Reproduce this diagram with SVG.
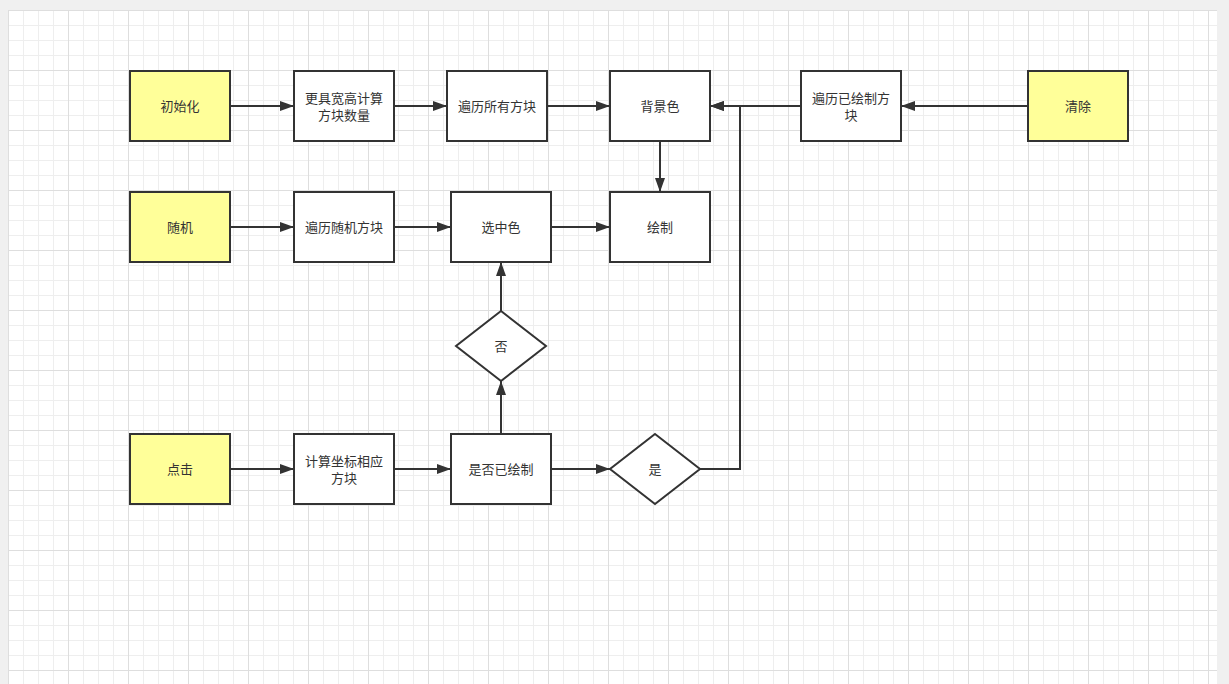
<svg xmlns="http://www.w3.org/2000/svg" width="1229" height="684" viewBox="0 0 1229 684">
<style>
.box{fill:#ffffff;stroke:#333333;stroke-width:2}
.start{fill:#ffff99;stroke:#333333;stroke-width:2}
.lbl{font-family:"Liberation Sans","Noto Sans CJK SC",sans-serif;font-size:13px;fill:#333333;text-anchor:middle}
.edge{fill:none;stroke:#333333;stroke-width:2}
</style>
<defs>
<pattern id="grid" patternUnits="userSpaceOnUse" x="8" y="10" width="60" height="60">
<path d="M15.5 0V60M30.5 0V60M45.5 0V60M0 15.5H60M0 30.5H60M0 45.5H60" stroke="#eeeeee" stroke-width="1" fill="none"/>
<path d="M0.5 0V60M0 0.5H60" stroke="#dedede" stroke-width="1" fill="none"/>
</pattern>
<marker id="arr" viewBox="0 0 14 10" refX="14" refY="5" markerWidth="14" markerHeight="10" markerUnits="userSpaceOnUse" orient="auto">
<path d="M0 0L14 5L0 10z" fill="#333333"/>
</marker>
</defs>
<rect x="0" y="0" width="1229" height="684" fill="#f0f0f0"/>
<rect x="8" y="10" width="1209" height="674" fill="#ffffff"/>
<rect x="8" y="10" width="1209" height="674" fill="url(#grid)"/>

<g id="connectors">
<path class="edge" d="M230 106H294" marker-end="url(#arr)"/>
<path class="edge" d="M394 106H447" marker-end="url(#arr)"/>
<path class="edge" d="M547 106H610" marker-end="url(#arr)"/>
<path class="edge" d="M1028 106H901" marker-end="url(#arr)"/>
<path class="edge" d="M801 106H710" marker-end="url(#arr)"/>
<path class="edge" d="M660 141V192" marker-end="url(#arr)"/>
<path class="edge" d="M230 227H294" marker-end="url(#arr)"/>
<path class="edge" d="M394 227H451" marker-end="url(#arr)"/>
<path class="edge" d="M551 227H610" marker-end="url(#arr)"/>
<path class="edge" d="M501 311V262" marker-end="url(#arr)"/>
<path class="edge" d="M501 434V381" marker-end="url(#arr)"/>
<path class="edge" d="M230 469H294" marker-end="url(#arr)"/>
<path class="edge" d="M394 469H451" marker-end="url(#arr)"/>
<path class="edge" d="M551 469H610" marker-end="url(#arr)"/>
<path class="edge" d="M700 469H740V106H710" marker-end="url(#arr)"/>
</g>

<g id="init"><rect class="start" x="130" y="71" width="100" height="70"/><text class="lbl" x="180" y="111">初始化</text></g>
<g id="calc"><rect class="box" x="294" y="71" width="100" height="70"/><text class="lbl" x="344" y="103">更具宽高计算</text><text class="lbl" x="344" y="120">方块数量</text></g>
<g id="iterall"><rect class="box" x="447" y="71" width="100" height="70"/><text class="lbl" x="497" y="111">遍历所有方块</text></g>
<g id="bgcolor"><rect class="box" x="610" y="71" width="100" height="70"/><text class="lbl" x="660" y="111">背景色</text></g>
<g id="iterdrawn"><rect class="box" x="801" y="71" width="100" height="70"/><text class="lbl" x="851" y="103">遍历已绘制方</text><text class="lbl" x="851" y="120">块</text></g>
<g id="clear"><rect class="start" x="1028" y="71" width="100" height="70"/><text class="lbl" x="1078" y="111">清除</text></g>

<g id="random"><rect class="start" x="130" y="192" width="100" height="70"/><text class="lbl" x="180" y="232">随机</text></g>
<g id="iterrandom"><rect class="box" x="294" y="192" width="100" height="70"/><text class="lbl" x="344" y="232">遍历随机方块</text></g>
<g id="selcolor"><rect class="box" x="451" y="192" width="100" height="70"/><text class="lbl" x="501" y="232">选中色</text></g>
<g id="draw"><rect class="box" x="610" y="192" width="100" height="70"/><text class="lbl" x="660" y="232">绘制</text></g>

<g id="no"><path class="box" d="M501 311L546 346L501 381L456 346Z"/><text class="lbl" x="501" y="351">否</text></g>

<g id="click"><rect class="start" x="130" y="434" width="100" height="70"/><text class="lbl" x="180" y="474">点击</text></g>
<g id="coord"><rect class="box" x="294" y="434" width="100" height="70"/><text class="lbl" x="344" y="466">计算坐标相应</text><text class="lbl" x="344" y="483">方块</text></g>
<g id="isdrawn"><rect class="box" x="451" y="434" width="100" height="70"/><text class="lbl" x="501" y="474">是否已绘制</text></g>
<g id="yes"><path class="box" d="M655 434L700 469L655 504L610 469Z"/><text class="lbl" x="655" y="474">是</text></g>
</svg>
